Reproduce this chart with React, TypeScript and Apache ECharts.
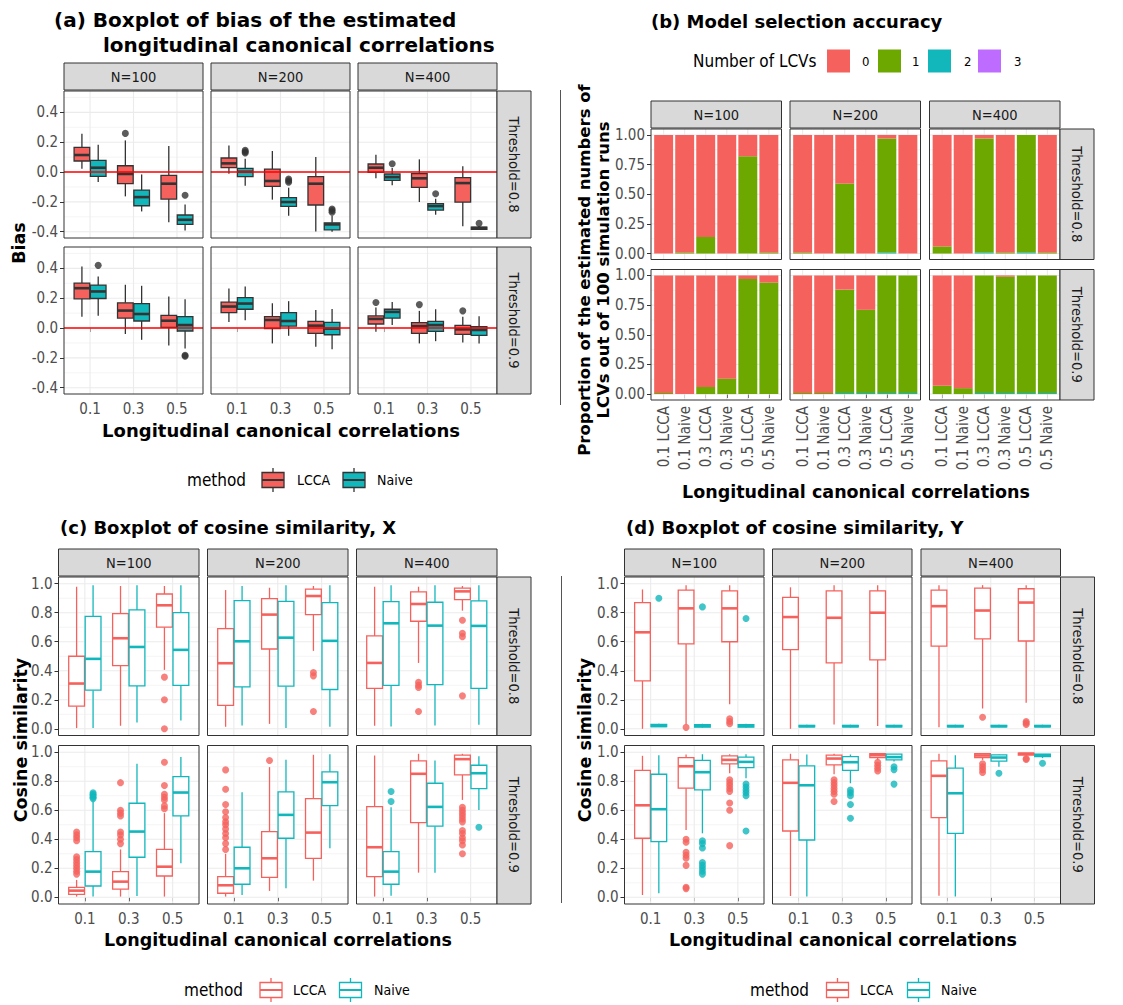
import { useEffect, useRef } from "react";
import * as echarts from "echarts";

// ---------- fonts & colours ----------
const REG = "'DejaVu Sans Condensed', 'DejaVu Sans', sans-serif";
const BOLD = "'DejaVu Sans', sans-serif";
const RED = "#F5625D";
const TEAL = "#12B7BC";
const GREEN = "#6DA800";
const PURPLE = "#BE6CFF";
const DARK = "#333333";
const GRID_COLOR = "#EBEBEB";
const STRIP_FILL = "#D9D9D9";
const TICK_TEXT = "#4D4D4D";
const METHOD_COLORS = [RED, TEAL];
const LCV_COLORS = [RED, GREEN, TEAL, PURPLE];

// ---------- categories ----------
const RHO_LABELS = ["0.1", "0.3", "0.5"];
const RHO_POS = [1, 2, 3];
const BAR_LABELS = ["0.1 LCCA", "0.1 Naive", "0.3 LCCA", "0.3 Naive", "0.5 LCCA", "0.5 Naive"];
const BAR_POS = [1, 2, 3, 4, 5, 6];
const N_LABELS = ["N=100", "N=200", "N=400"];
const THRESHOLD_LABELS = ["Threshold=0.8", "Threshold=0.9"];
const METHODS = ["LCCA", "Naive"];
const LCV_LEVELS = ["0", "1", "2", "3"];

// ---------- tick values ----------
const BIAS_TICKS = [-0.4, -0.2, 0, 0.2, 0.4];
const BIAS_MINOR = [-0.3, -0.1, 0.1, 0.3, 0.5];
const PROP_TICKS = [0, 0.25, 0.5, 0.75, 1];
const PROP_MINOR = [0.125, 0.375, 0.625, 0.875];
const COS_TICKS = [0, 0.2, 0.4, 0.6, 0.8, 1];
const COS_MINOR = [0.1, 0.3, 0.5, 0.7, 0.9];
const BIAS_REFERENCE = [0];

// ---------- box statistics ----------
// One entry per sample size (N=100, 200, 400); six boxes each, ordered
// 0.1 LCCA, 0.1 Naive, 0.3 LCCA, 0.3 Naive, 0.5 LCCA, 0.5 Naive.
// Every box: [lower whisker, Q1, median, Q3, upper whisker].
// Outliers: [box slot, value].

// (a) bias of the estimated longitudinal canonical correlations
const biasT08 = [
  [[0.022, 0.074, 0.114, 0.165, 0.257], [-0.067, -0.029, 0.029, 0.078, 0.183], [-0.163, -0.078, -0.013, 0.042, 0.212], [-0.264, -0.226, -0.168, -0.121, -0.016], [-0.337, -0.181, -0.078, -0.022, 0.174], [-0.391, -0.351, -0.32, -0.288, -0.217]],
  [[-0.011, 0.029, 0.058, 0.094, 0.177], [-0.092, -0.031, 0.002, 0.025, 0.089], [-0.185, -0.096, -0.06, 0.02, 0.141], [-0.293, -0.23, -0.201, -0.172, -0.105], [-0.398, -0.221, -0.078, -0.031, 0.101], [-0.4, -0.387, -0.351, -0.34, -0.293]],
  [[-0.042, -0.002, 0.029, 0.054, 0.116], [-0.089, -0.056, -0.034, -0.013, 0.027], [-0.201, -0.103, -0.042, -0.011, 0.085], [-0.286, -0.255, -0.228, -0.212, -0.179], [-0.364, -0.201, -0.074, -0.038, 0.038], [-0.387, -0.384, -0.375, -0.369, -0.362]],
];
const biasT08Out = [
  [[2, 0.259], [5, -0.156]],
  [[1, 0.145], [1, 0.136], [1, 0.128], [3, -0.047], [3, -0.058], [3, -0.069], [5, -0.248], [5, -0.258], [5, -0.27]],
  [[1, 0.056], [3, -0.145], [5, -0.344]],
];
const biasT09 = [
  [[0.076, 0.196, 0.267, 0.301, 0.413], [0.083, 0.198, 0.245, 0.288, 0.346], [-0.04, 0.067, 0.117, 0.169, 0.29], [-0.079, 0.047, 0.094, 0.164, 0.283], [-0.117, 0.004, 0.049, 0.085, 0.211], [-0.137, -0.02, 0.02, 0.076, 0.193]],
  [[0.04, 0.103, 0.144, 0.173, 0.265], [0.052, 0.126, 0.164, 0.204, 0.279], [-0.103, -0.004, 0.054, 0.076, 0.166], [-0.052, 0.013, 0.047, 0.103, 0.18], [-0.126, -0.036, 0.016, 0.045, 0.121], [-0.142, -0.045, -0.004, 0.038, 0.128]],
  [[-0.025, 0.027, 0.061, 0.081, 0.137], [0.02, 0.067, 0.108, 0.126, 0.175], [-0.103, -0.036, 0.013, 0.036, 0.115], [-0.088, -0.022, 0.02, 0.045, 0.126], [-0.097, -0.043, -0.009, 0.018, 0.076], [-0.103, -0.049, -0.013, 0.009, 0.079]],
];
const biasT09Out = [
  [[1, 0.42], [5, -0.182], [5, -0.189]],
  [],
  [[0, 0.171], [2, 0.157], [4, 0.115]],
];

// (c) cosine similarity, X
const cosXT08 = [
  [[0.005, 0.156, 0.312, 0.5, 0.979], [0.005, 0.266, 0.482, 0.775, 0.989], [0.021, 0.436, 0.624, 0.794, 0.984], [0.044, 0.296, 0.564, 0.819, 0.989], [0.406, 0.7, 0.851, 0.929, 0.984], [0.057, 0.3, 0.544, 0.8, 0.989]],
  [[0.014, 0.161, 0.452, 0.69, 0.956], [0.023, 0.289, 0.603, 0.883, 0.984], [0.034, 0.55, 0.787, 0.897, 0.972], [0.005, 0.294, 0.628, 0.878, 0.989], [0.537, 0.787, 0.915, 0.963, 0.984], [0.014, 0.271, 0.606, 0.869, 0.989]],
  [[0.021, 0.278, 0.454, 0.64, 0.979], [0.016, 0.3, 0.727, 0.876, 0.989], [0.454, 0.741, 0.86, 0.943, 0.979], [0.023, 0.305, 0.711, 0.872, 0.989], [0.814, 0.89, 0.947, 0.97, 0.984], [0.028, 0.278, 0.709, 0.881, 0.989]],
];
const cosXT08Out = [
  [[4, 0.356], [4, 0.2], [4, 0.0]],
  [[4, 0.388], [4, 0.365], [4, 0.119]],
  [[2, 0.321], [2, 0.3], [2, 0.285], [2, 0.119], [4, 0.748], [4, 0.658], [4, 0.635], [4, 0.227]],
];
const cosXT09 = [
  [[0.005, 0.021, 0.046, 0.069, 0.12], [0.005, 0.078, 0.177, 0.315, 0.66], [0.005, 0.057, 0.108, 0.177, 0.33], [0.009, 0.276, 0.453, 0.648, 0.92], [0.005, 0.147, 0.211, 0.331, 0.58], [0.234, 0.561, 0.722, 0.832, 0.966]],
  [[0.005, 0.028, 0.083, 0.143, 0.3], [0.016, 0.09, 0.2, 0.345, 0.724], [0.044, 0.138, 0.269, 0.453, 0.897], [0.062, 0.407, 0.568, 0.726, 0.947], [0.115, 0.269, 0.446, 0.68, 0.982], [0.338, 0.632, 0.793, 0.864, 0.986]],
  [[0.005, 0.143, 0.345, 0.625, 0.977], [0.011, 0.09, 0.177, 0.315, 0.62], [0.17, 0.515, 0.851, 0.94, 0.989], [0.17, 0.49, 0.623, 0.786, 0.943], [0.671, 0.844, 0.952, 0.979, 0.989], [0.602, 0.749, 0.855, 0.91, 0.972]],
];
const cosXT09Out = [
  [[0, 0.45], [0, 0.43], [0, 0.41], [0, 0.39], [0, 0.28], [0, 0.26], [0, 0.24], [0, 0.22], [0, 0.2], [0, 0.18], [0, 0.16],
   [1, 0.72], [1, 0.71], [1, 0.7], [1, 0.69], [1, 0.68],
   [2, 0.79], [2, 0.6], [2, 0.58], [2, 0.56], [2, 0.45], [2, 0.43], [2, 0.4], [2, 0.37],
   [4, 0.93], [4, 0.77], [4, 0.71], [4, 0.69], [4, 0.67], [4, 0.63], [4, 0.61]],
  [[0, 0.878], [0, 0.745], [0, 0.64], [0, 0.59], [0, 0.55], [0, 0.52], [0, 0.5], [0, 0.47], [0, 0.44], [0, 0.41], [0, 0.37], [0, 0.33],
   [2, 0.943]],
  [[1, 0.729], [1, 0.66],
   [4, 0.62], [4, 0.6], [4, 0.58], [4, 0.56], [4, 0.54], [4, 0.52], [4, 0.46], [4, 0.44], [4, 0.41], [4, 0.39], [4, 0.36], [4, 0.3],
   [5, 0.483]],
];

// (d) cosine similarity, Y
const cosYT08 = [
  [[0.0, 0.33, 0.665, 0.87, 0.96], [0.012, 0.015, 0.02, 0.03, 0.035], [0.03, 0.585, 0.83, 0.955, 0.99], [0.008, 0.012, 0.02, 0.028, 0.035], [0.17, 0.6, 0.83, 0.95, 0.99], [0.008, 0.012, 0.02, 0.028, 0.035]],
  [[0.0, 0.545, 0.77, 0.905, 0.975], [0.01, 0.013, 0.018, 0.024, 0.028], [0.03, 0.455, 0.765, 0.95, 0.99], [0.01, 0.013, 0.018, 0.024, 0.028], [0.02, 0.475, 0.8, 0.95, 0.99], [0.01, 0.013, 0.018, 0.024, 0.028]],
  [[0.01, 0.57, 0.845, 0.955, 0.99], [0.01, 0.013, 0.018, 0.024, 0.028], [0.14, 0.62, 0.815, 0.97, 0.99], [0.01, 0.013, 0.018, 0.024, 0.028], [0.18, 0.605, 0.87, 0.965, 0.99], [0.01, 0.013, 0.018, 0.024, 0.028]],
];
const cosYT08Out = [
  [[1, 0.9], [2, 0.01], [3, 0.84], [4, 0.07], [4, 0.05], [4, 0.035], [5, 0.76]],
  [],
  [[2, 0.08], [4, 0.05], [4, 0.04], [4, 0.03]],
];
const cosYT09 = [
  [[0.016, 0.407, 0.634, 0.874, 0.975], [0.028, 0.384, 0.607, 0.848, 0.979], [0.464, 0.752, 0.903, 0.963, 0.984], [0.441, 0.74, 0.862, 0.943, 0.986], [0.855, 0.92, 0.947, 0.975, 0.986], [0.821, 0.894, 0.933, 0.966, 0.986]],
  [[0.009, 0.457, 0.789, 0.947, 0.989], [0.005, 0.395, 0.772, 0.906, 0.984], [0.848, 0.913, 0.956, 0.979, 0.989], [0.786, 0.874, 0.931, 0.97, 0.984], [0.947, 0.963, 0.979, 0.989, 0.989], [0.936, 0.947, 0.966, 0.986, 0.986]],
  [[0.011, 0.549, 0.837, 0.94, 0.989], [0.005, 0.441, 0.717, 0.89, 0.979], [0.947, 0.963, 0.977, 0.989, 0.989], [0.9, 0.938, 0.963, 0.982, 0.986], [0.97, 0.979, 0.989, 0.993, 0.993], [0.959, 0.97, 0.979, 0.986, 0.986]],
];
const cosYT09Out = [
  [[2, 0.4], [2, 0.38], [2, 0.31], [2, 0.29], [2, 0.27], [2, 0.22], [2, 0.07], [2, 0.06],
   [3, 0.39], [3, 0.37], [3, 0.34], [3, 0.24], [3, 0.22], [3, 0.2], [3, 0.18], [3, 0.16],
   [4, 0.81], [4, 0.79], [4, 0.77], [4, 0.75], [4, 0.73], [4, 0.65], [4, 0.6], [4, 0.356],
   [5, 0.78], [5, 0.76], [5, 0.74], [5, 0.72], [5, 0.7], [5, 0.457]],
  [[2, 0.81], [2, 0.79], [2, 0.77], [2, 0.75], [2, 0.73], [2, 0.71], [2, 0.66],
   [3, 0.74], [3, 0.72], [3, 0.7], [3, 0.64], [3, 0.545],
   [4, 0.93], [4, 0.91], [4, 0.89], [4, 0.87],
   [5, 0.9], [5, 0.88], [5, 0.78]],
  [[2, 0.92], [2, 0.9], [2, 0.88], [2, 0.86], [3, 0.855], [4, 0.956], [4, 0.95], [5, 0.924]],
];

// (b) proportion of runs selecting 0/1/2/3 LCVs, per sample size, six bars each
const lcv0T08 = [[1.0, 0.99, 0.86, 1.0, 0.18, 0.99], [0.99, 1.0, 0.41, 1.0, 0.03, 1.0], [0.94, 1.0, 0.03, 0.99, 0.0, 0.99]];
const lcv1T08 = [[0.0, 0.01, 0.14, 0.0, 0.82, 0.01], [0.01, 0.0, 0.59, 0.0, 0.96, 0.0], [0.06, 0.0, 0.96, 0.01, 0.99, 0.01]];
const lcv2T08 = [[0, 0, 0, 0, 0, 0], [0, 0, 0, 0, 0.01, 0], [0, 0, 0.01, 0, 0.01, 0]];
const lcv3T08 = [[0, 0, 0, 0, 0, 0], [0, 0, 0, 0, 0, 0], [0, 0, 0, 0, 0, 0]];
const lcv0T09 = [[0.99, 1.0, 0.94, 0.87, 0.03, 0.06], [0.99, 0.99, 0.12, 0.29, 0.0, 0.0], [0.93, 0.95, 0.0, 0.01, 0.0, 0.0]];
const lcv1T09 = [[0.01, 0.0, 0.06, 0.13, 0.97, 0.94], [0.01, 0.01, 0.87, 0.7, 0.99, 0.99], [0.07, 0.05, 0.99, 0.98, 0.99, 0.99]];
const lcv2T09 = [[0, 0, 0, 0, 0, 0], [0, 0, 0.01, 0.01, 0.01, 0.01], [0, 0, 0.01, 0.01, 0.01, 0.01]];
const lcv3T09 = [[0, 0, 0, 0, 0, 0], [0, 0, 0, 0, 0, 0], [0, 0, 0, 0, 0, 0]];

// ---------- layout ----------
type Layout = { left: number[]; width: number; top: number[]; height: number; yMin: number; yMax: number };
const LAYOUT_A: Layout = { left: [64, 211, 358], width: 139, top: [91, 247], height: 147, yMin: -0.442, yMax: 0.543 };
const LAYOUT_B: Layout = { left: [651, 790, 929.5], width: 130.5, top: [129, 269.5], height: 130.5, yMin: -0.05, yMax: 1.05 };
const LAYOUT_C: Layout = { left: [58.5, 207.5, 356.5], width: 140.5, top: [577, 745.5], height: 158.5, yMin: -0.046, yMax: 1.046 };
const LAYOUT_D: Layout = { left: [624.5, 772.5, 921], width: 139.5, top: [577, 745.5], height: 158.5, yMin: -0.046, yMax: 1.046 };
const STRIP_TOP = 27;
const STRIP_RIGHT = 34;
const DODGE = 0.1875;
const BOX_HALF = 0.18;
const BAR_HALF = 0.45;
const TICK_FONT = 15;
const STRIP_FONT = 14.5;

const slotX = (s: number) => RHO_POS[Math.floor(s / 2)] + (s % 2 === 0 ? -DODGE : DODGE);

function txt(t: string, x: number, y: number, o: any = {}) {
  return {
    type: "text",
    x,
    y,
    rotation: o.rotation || 0,
    z: 100,
    silent: true,
    style: {
      text: t,
      x: 0,
      y: 0,
      fill: o.color || "#000000",
      fontSize: o.size || 13,
      fontFamily: o.family || REG,
      fontWeight: o.weight || "normal",
      align: o.align || "left",
      verticalAlign: "middle",
    },
  };
}

function renderGridLines(params: any, api: any) {
  const cs = params.coordSys;
  const v = api.value(0);
  const major = api.value(1) === 1;
  const style = { stroke: GRID_COLOR, lineWidth: major ? 1.1 : 0.55 };
  if (api.value(2) === 0) {
    const y = api.coord([v, v])[1];
    return { type: "line", shape: { x1: cs.x, y1: y, x2: cs.x + cs.width, y2: y }, style };
  }
  const x = api.coord([v, v])[0];
  return { type: "line", shape: { x1: x, y1: cs.y, x2: x, y2: cs.y + cs.height }, style };
}

function renderRefLine(params: any, api: any) {
  const cs = params.coordSys;
  const y = api.coord([api.value(0), api.value(1)])[1];
  return { type: "line", shape: { x1: cs.x, y1: y, x2: cs.x + cs.width, y2: y }, style: { stroke: "#FF0000", lineWidth: 1.4 } };
}

function boxRenderer(filled: boolean) {
  return (params: any, api: any) => {
    const x = api.value(0);
    const m = api.value(6);
    const color = METHOD_COLORS[m];
    const stroke = filled ? DARK : color;
    const fill = filled ? color : "#FFFFFF";
    const lo = api.coord([x, api.value(1)]);
    const q1 = api.coord([x, api.value(2)]);
    const med = api.coord([x, api.value(3)]);
    const q3 = api.coord([x, api.value(4)]);
    const hi = api.coord([x, api.value(5)]);
    const xl = api.coord([x - BOX_HALF, 0])[0];
    const xr = api.coord([x + BOX_HALF, 0])[0];
    const lw = 1.3;
    return {
      type: "group",
      children: [
        { type: "line", shape: { x1: lo[0], y1: lo[1], x2: q1[0], y2: q1[1] }, style: { stroke, lineWidth: lw } },
        { type: "line", shape: { x1: q3[0], y1: q3[1], x2: hi[0], y2: hi[1] }, style: { stroke, lineWidth: lw } },
        { type: "rect", shape: { x: xl, y: q3[1], width: xr - xl, height: Math.max(q1[1] - q3[1], 0.5) }, style: { fill, stroke, lineWidth: lw } },
        { type: "line", shape: { x1: xl, y1: med[1], x2: xr, y2: med[1] }, style: { stroke, lineWidth: 2.6 } },
      ],
    };
  };
}

function renderBar(params: any, api: any) {
  const x = api.value(0);
  const p0 = api.coord([x - BAR_HALF, api.value(2)]);
  const p1 = api.coord([x + BAR_HALF, api.value(1)]);
  return {
    type: "rect",
    shape: { x: p0[0], y: p0[1], width: p1[0] - p0[0], height: p1[1] - p0[1] },
    style: { fill: LCV_COLORS[api.value(3)] },
  };
}

function boxKey(cx: number, cy: number, color: string, filled: boolean) {
  const stroke = filled ? DARK : color;
  const fill = filled ? color : "#FFFFFF";
  return [
    { type: "line", z: 100, silent: true, shape: { x1: cx, y1: cy - 12, x2: cx, y2: cy + 12 }, style: { stroke, lineWidth: 1.3 } },
    { type: "rect", z: 100, silent: true, shape: { x: cx - 11, y: cy - 7.5, width: 22, height: 15 }, style: { fill, stroke, lineWidth: 1.3 } },
    { type: "line", z: 100, silent: true, shape: { x1: cx - 11, y1: cy, x2: cx + 11, y2: cy }, style: { stroke, lineWidth: 2 } },
  ];
}

function buildOption() {
  const grid: any[] = [];
  const xAxis: any[] = [];
  const yAxis: any[] = [];
  const series: any[] = [];
  const graphic: any[] = [];

  type PanelCfg = {
    layout: Layout;
    xMax: number;
    xTicks: number[];
    xLabels: string[];
    rotate: number;
    yTicks: number[];
    yMinor: number[];
    digits: number;
    facet: (gi: number, r: number, c: number) => any[];
  };

  const addPanel = (cfg: PanelCfg) => {
    const lay = cfg.layout;
    for (let r = 0; r < lay.top.length; r++) {
      for (let c = 0; c < lay.left.length; c++) {
        const gi = grid.length;
        const L = lay.left[c];
        const T = lay.top[r];
        const W = lay.width;
        const H = lay.height;
        const bottom = r === lay.top.length - 1;
        const leftCol = c === 0;
        grid.push({ left: L, top: T, width: W, height: H, show: false });
        xAxis.push({
          gridIndex: gi,
          type: "value",
          min: 0.4,
          max: cfg.xMax,
          axisLine: { show: false },
          splitLine: { show: false },
          axisTick: { show: bottom, customValues: cfg.xTicks, length: 4, lineStyle: { color: DARK, width: 1 } },
          axisLabel: {
            show: bottom,
            customValues: cfg.xTicks,
            formatter: (v: number) => cfg.xLabels[Math.round(v) - 1],
            color: TICK_TEXT,
            fontSize: TICK_FONT,
            fontFamily: REG,
            margin: cfg.rotate ? 6 : 7,
            rotate: cfg.rotate,
          },
        });
        yAxis.push({
          gridIndex: gi,
          type: "value",
          min: lay.yMin,
          max: lay.yMax,
          axisLine: { show: false },
          splitLine: { show: false },
          axisTick: { show: leftCol, customValues: cfg.yTicks, length: 4, lineStyle: { color: DARK, width: 1 } },
          axisLabel: {
            show: leftCol,
            customValues: cfg.yTicks,
            formatter: (v: number) => v.toFixed(cfg.digits),
            color: TICK_TEXT,
            fontSize: TICK_FONT,
            fontFamily: REG,
            margin: 6,
          },
        });
        const lines: number[][] = [];
        cfg.yMinor.forEach((v) => lines.push([v, 0, 0]));
        cfg.yTicks.forEach((v) => lines.push([v, 1, 0]));
        cfg.xTicks.forEach((v) => lines.push([v, 1, 1]));
        series.push({
          type: "custom",
          xAxisIndex: gi,
          yAxisIndex: gi,
          z: 1,
          silent: true,
          data: lines,
          renderItem: renderGridLines,
        });
        cfg.facet(gi, r, c).forEach((s) => series.push(s));
        // panel border
        graphic.push({ type: "rect", z: 90, silent: true, shape: { x: L, y: T, width: W, height: H }, style: { fill: "none", stroke: DARK, lineWidth: 1 } });
        if (r === 0) {
          graphic.push({ type: "rect", z: 90, silent: true, shape: { x: L, y: T - STRIP_TOP - 1, width: W, height: STRIP_TOP }, style: { fill: STRIP_FILL, stroke: DARK, lineWidth: 1 } });
          graphic.push(txt(N_LABELS[c], L + W / 2, T - STRIP_TOP / 2 - 1, { align: "center", size: STRIP_FONT, color: "#1A1A1A" }));
        }
        if (c === lay.left.length - 1) {
          graphic.push({ type: "rect", z: 90, silent: true, shape: { x: L + W, y: T, width: STRIP_RIGHT, height: H }, style: { fill: STRIP_FILL, stroke: DARK, lineWidth: 1 } });
          graphic.push(txt(THRESHOLD_LABELS[r], L + W + STRIP_RIGHT / 2, T + H / 2, { align: "center", size: STRIP_FONT, color: "#1A1A1A", rotation: -Math.PI / 2 }));
        }
      }
    }
  };

  const boxFacet = (rows: number[][][][], outs: number[][][][], filled: boolean, refLine: boolean) =>
    (gi: number, r: number, c: number) => {
      const boxes = rows[r][c];
      const data = boxes.map((b, s) => [slotX(s), b[0], b[1], b[2], b[3], b[4], s % 2]);
      const outData = outs[r][c].map((o) => ({
        value: [slotX(o[0]), o[1]],
        itemStyle: { color: filled ? DARK : METHOD_COLORS[o[0] % 2] },
      }));
      const list: any[] = [
        { type: "custom", xAxisIndex: gi, yAxisIndex: gi, z: 3, silent: true, encode: { x: 0, y: [1, 2, 3, 4, 5] }, data, renderItem: boxRenderer(filled) },
        { type: "scatter", xAxisIndex: gi, yAxisIndex: gi, z: 4, silent: true, symbol: "circle", symbolSize: 7, data: outData },
      ];
      if (refLine) {
        list.push({ type: "custom", xAxisIndex: gi, yAxisIndex: gi, z: 5, silent: true, data: BIAS_REFERENCE.map((v) => [1, v]), encode: { x: 0, y: 1 }, renderItem: renderRefLine });
      }
      return list;
    };

  const barFacet = (gi: number, r: number, c: number) => {
    const levels = r === 0 ? [lcv0T08, lcv1T08, lcv2T08, lcv3T08] : [lcv0T09, lcv1T09, lcv2T09, lcv3T09];
    const data: number[][] = [];
    BAR_POS.forEach((x, i) => {
      let base = 0;
      for (let lvl = 3; lvl >= 0; lvl--) {
        const v = levels[lvl][c][i];
        if (v > 0) data.push([x, base, base + v, lvl]);
        base += v;
      }
    });
    return [{ type: "custom", xAxisIndex: gi, yAxisIndex: gi, z: 3, silent: true, encode: { x: 0, y: [1, 2] }, data, renderItem: renderBar }];
  };

  // (a)
  addPanel({
    layout: LAYOUT_A, xMax: 3.6, xTicks: RHO_POS, xLabels: RHO_LABELS, rotate: 0,
    yTicks: BIAS_TICKS, yMinor: BIAS_MINOR, digits: 1,
    facet: boxFacet([biasT08, biasT09], [biasT08Out, biasT09Out], true, true),
  });
  // (b)
  addPanel({
    layout: LAYOUT_B, xMax: 6.6, xTicks: BAR_POS, xLabels: BAR_LABELS, rotate: 90,
    yTicks: PROP_TICKS, yMinor: PROP_MINOR, digits: 2,
    facet: barFacet,
  });
  // (c)
  addPanel({
    layout: LAYOUT_C, xMax: 3.6, xTicks: RHO_POS, xLabels: RHO_LABELS, rotate: 0,
    yTicks: COS_TICKS, yMinor: COS_MINOR, digits: 1,
    facet: boxFacet([cosXT08, cosXT09], [cosXT08Out, cosXT09Out], false, false),
  });
  // (d)
  addPanel({
    layout: LAYOUT_D, xMax: 3.6, xTicks: RHO_POS, xLabels: RHO_LABELS, rotate: 0,
    yTicks: COS_TICKS, yMinor: COS_MINOR, digits: 1,
    facet: boxFacet([cosYT08, cosYT09], [cosYT08Out, cosYT09Out], false, false),
  });

  // titles
  const TA = { weight: "bold", family: BOLD, size: 20 };
  const T = { weight: "bold", family: BOLD, size: 18 };
  graphic.push(txt("(a) Boxplot of bias of the estimated", 54, 20, TA));
  graphic.push(txt("longitudinal canonical correlations", 103, 45, TA));
  graphic.push(txt("(b) Model selection accuracy", 651, 21, T));
  graphic.push(txt("(c) Boxplot of cosine similarity, X", 60, 527, T));
  graphic.push(txt("(d) Boxplot of cosine similarity, Y", 626, 527, T));

  // axis titles
  const A = { weight: "bold", family: BOLD, size: 17.5, align: "center" };
  const AR = { ...A, rotation: Math.PI / 2 };
  const AB = { ...AR, size: 16.5 };
  graphic.push(txt("Longitudinal canonical correlations", 281, 430, { ...A, size: 18 }));
  graphic.push(txt("Longitudinal canonical correlations", 856, 492, A));
  graphic.push(txt("Longitudinal canonical correlations", 278, 940, A));
  graphic.push(txt("Longitudinal canonical correlations", 843, 940, A));
  graphic.push(txt("Bias", 19, 243, AR));
  graphic.push(txt("Proportion of the estimated numbers of", 584, 270, AB));
  graphic.push(txt("LCVs out of 100 simulation runs", 603, 270, AB));
  graphic.push(txt("Cosine similarity", 21, 740, AR));
  graphic.push(txt("Cosine similarity", 585, 740, AR));

  // separators
  graphic.push({ type: "line", z: 90, silent: true, shape: { x1: 560.5, y1: 90, x2: 560.5, y2: 405 }, style: { stroke: "#555555", lineWidth: 1 } });
  graphic.push({ type: "line", z: 90, silent: true, shape: { x1: 561.5, y1: 576, x2: 561.5, y2: 903 }, style: { stroke: "#555555", lineWidth: 1 } });

  // legends for the boxplot panels
  const legendBox = (methodX: number, keyX: number[], labelX: number[], y: number, filled: boolean) => {
    graphic.push(txt("method", methodX, y, { size: 17 }));
    METHODS.forEach((m, i) => {
      boxKey(keyX[i], y, METHOD_COLORS[i], filled).forEach((g) => graphic.push(g));
      graphic.push(txt(m, labelX[i], y, { size: 14 }));
    });
  };
  legendBox(187, [273, 354], [297, 377], 480, true);
  legendBox(184, [271, 350.5], [293, 374], 990, false);
  legendBox(750, [837.5, 918.5], [860, 941], 990, false);

  // legend for (b)
  graphic.push(txt("Number of LCVs", 693, 61, { size: 17 }));
  const keyX = [827, 878, 928, 978];
  const keyLabelX = [862, 912, 964, 1014];
  LCV_LEVELS.forEach((lv, i) => {
    graphic.push({ type: "rect", z: 100, silent: true, shape: { x: keyX[i], y: 49.5, width: 23, height: 23 }, style: { fill: LCV_COLORS[i] } });
    graphic.push(txt(lv, keyLabelX[i], 61, { size: 13 }));
  });

  return {
    animation: false,
    backgroundColor: "#FFFFFF",
    textStyle: { fontFamily: REG },
    grid,
    xAxis,
    yAxis,
    series,
    graphic,
  };
}

export default function App() {
  const ref = useRef<HTMLDivElement>(null);
  useEffect(() => {
    if (!ref.current) return;
    const chart = echarts.init(ref.current, null, { renderer: "svg" });
    chart.setOption(buildOption() as any);
    return () => chart.dispose();
  }, []);
  return <div ref={ref} style={{ position: "fixed", left: 0, top: 0, width: 1123, height: 1005, background: "#FFFFFF" }} />;
}
